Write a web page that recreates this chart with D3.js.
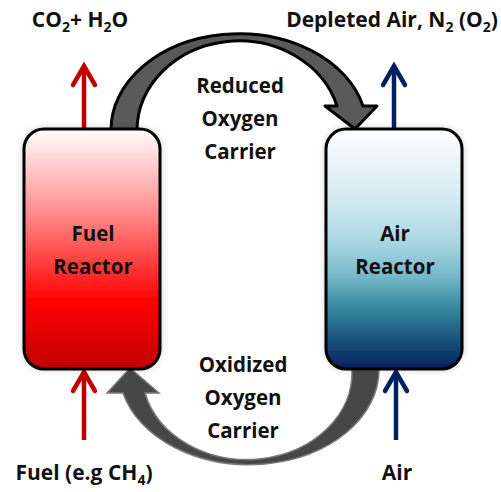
<!DOCTYPE html>
<html>
<head>
  <meta charset="utf-8">
  <title>Chemical Looping Combustion</title>
  <script src="https://d3js.org/d3.v7.min.js"></script>
  <style>
    html, body { margin: 0; padding: 0; background: #fff; }
    svg { display: block; }
    .lbl { font-family: "Open Sans", Lato, sans-serif; font-weight: bold; fill: #111; }
  </style>
</head>
<body>
  <svg width="501" height="492"></svg>
  <script>
    // reactors, left to right
    const reactors = ["Fuel", "Air"];
    const reactorLabels = [["Fuel", "Reactor"], ["Air", "Reactor"]];
    const carrierLabels = [["Reduced", "Oxygen", "Carrier"], ["Oxidized", "Oxygen", "Carrier"]];
    // stream labels as [text, isSubscript] runs
    const outletLabels = [
      [["CO", 0], ["2", 1], ["+ H", 0], ["2", 1], ["O", 0]],
      [["Depleted Air, N", 0], ["2", 1], [" (O", 0], ["2", 1], [")", 0]]
    ];
    const inletLabels = [
      [["Fuel (e.g CH", 0], ["4", 1], [")", 0]],
      [["Air", 0]]
    ];
    const streamColors = ["#c00000", "#002060"];

    const svg = d3.select("svg");
    const defs = svg.append("defs");

    const x = d3.scalePoint().domain(reactors).range([92, 394]);
    const boxW = 136, boxTop = 129, boxBot = 369;

    // gradients
    const grads = {
      Fuel: [[0, "#ffffff"], [0.35, "#ff8c8c"], [0.72, "#ff0000"], [1, "#c00000"]],
      Air: [[0, "#ffffff"], [0.3, "#d2eaf1"], [0.5, "#a2d2df"], [0.62, "#72b5c7"], [0.76, "#31839b"], [1, "#03205e"]]
    };
    reactors.forEach(r => {
      const g = defs.append("linearGradient").attr("id", "g" + r)
        .attr("x1", 0).attr("y1", 0).attr("x2", 0).attr("y2", 1);
      grads[r].forEach(s => g.append("stop").attr("offset", s[0]).attr("stop-color", s[1]));
    });
    const f = defs.append("filter").attr("id", "glow").attr("x", -0.2).attr("y", -0.2).attr("width", 1.4).attr("height", 1.4);
    f.append("feGaussianBlur").attr("in", "SourceAlpha").attr("stdDeviation", 3).attr("result", "b");
    f.append("feComponentTransfer").attr("in", "b").attr("result", "c")
      .append("feFuncA").attr("type", "linear").attr("slope", 0.18);
    const m = f.append("feMerge");
    m.append("feMergeNode").attr("in", "c");
    m.append("feMergeNode").attr("in", "SourceGraphic");

    // curved carrier arrows
    const topArrow = "M111,130 A128,96 0 0 1 363,106 L377,106 L355,129 L325,106 L337,106 A102,90 0 0 0 137,130 Z";
    const botArrow = "M379,370 A130,95 0 0 1 123,393 L107,393 L130,368 L159,393 L145,393 A105,87 0 0 0 352,370 Z";
    svg.append("path").attr("d", botArrow).attr("fill", "#474747").attr("stroke", "#7a7a7a").attr("stroke-width", 1.5);
    svg.append("path").attr("d", topArrow).attr("fill", "#595959").attr("stroke", "#000").attr("stroke-width", 3).attr("stroke-linejoin", "round");

    // stream arrows
    function upArrow(cx, y0, y1, col) {
      svg.append("line").attr("x1", cx).attr("x2", cx).attr("y1", y0).attr("y2", y1 + 2)
        .attr("stroke", col).attr("stroke-width", 4.5);
      svg.append("polyline").attr("points", [[cx - 11, y1 + 21], [cx, y1 + 2], [cx + 11, y1 + 21]].join(" "))
        .attr("fill", "none").attr("stroke", col).attr("stroke-width", 4.5)
        .attr("stroke-linejoin", "miter").attr("stroke-linecap", "round");
    }
    reactors.forEach((r, i) => {
      upArrow(i ? 394 : 84, boxTop, 64, streamColors[i]);
      upArrow(i ? 396 : 84, 440, boxBot + 1, streamColors[i]);
    });

    // reactors
    reactors.forEach((r, i) => {
      svg.append("rect").attr("x", x(r) - boxW / 2).attr("y", boxTop)
        .attr("width", boxW).attr("height", boxBot - boxTop).attr("rx", 20)
        .attr("fill", "url(#g" + r + ")").attr("stroke", "#000").attr("stroke-width", 3)
        .attr("filter", "url(#glow)");
      reactorLabels[i].forEach((t, j) => {
        svg.append("text").attr("class", "lbl").attr("x", x(r) + 1).attr("y", 241 + j * 33)
          .attr("text-anchor", "middle").attr("font-size", 20.5).text(t);
      });
    });

    // carrier labels
    const carrierX = [240, 243], carrierY = [93, 372];
    carrierLabels.forEach((lines, i) => {
      lines.forEach((t, j) => {
        svg.append("text").attr("class", "lbl").attr("x", carrierX[i]).attr("y", carrierY[i] + j * 33)
          .attr("text-anchor", "middle").attr("font-size", 20.5).text(t);
      });
    });

    // stream labels
    function runText(runs, tx, ty, anchor) {
      const t = svg.append("text").attr("class", "lbl").attr("x", tx).attr("y", ty)
        .attr("text-anchor", anchor).attr("font-size", 21);
      let sub = false;
      runs.forEach(rn => {
        const s = t.append("tspan").text(rn[0]);
        if (rn[1]) { s.attr("font-size", 14).attr("dy", 5); sub = true; }
        else if (sub) { s.attr("dy", -5); sub = false; }
      });
    }
    runText(outletLabels[0], 80, 27, "middle");
    runText(outletLabels[1], 392, 27, "middle");
    runText(inletLabels[0], 84, 480, "middle");
    runText(inletLabels[1], 397, 480, "middle");
  </script>
</body>
</html>
